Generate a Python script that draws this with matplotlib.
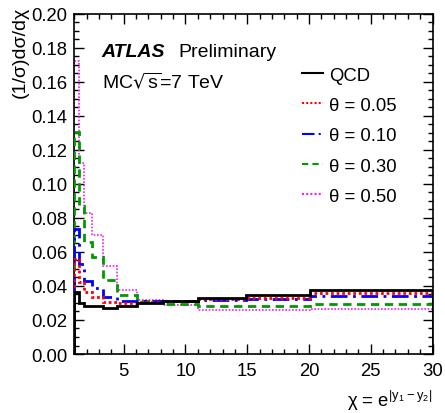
import matplotlib
matplotlib.use('Agg')
import matplotlib.pyplot as plt
from matplotlib.ticker import MultipleLocator, FormatStrFormatter

plt.rcParams['font.family'] = ['Liberation Sans', 'DejaVu Sans']
plt.rcParams['mathtext.default'] = 'regular'

# chi bin edges and normalised distributions
edges = [1, 1.35, 1.82, 2.46, 3.32, 4.48, 6.05, 8.17, 11.02, 14.88, 20.09, 30]
qcd = [0.0365, 0.0302, 0.0284, 0.0280, 0.0270, 0.0282, 0.0300, 0.0314, 0.0332, 0.0346, 0.0378]
theta_005 = [0.0560, 0.0422, 0.0363, 0.0335, 0.0307, 0.0298, 0.0305, 0.0310, 0.0323, 0.0332, 0.0360]
theta_010 = [0.0738, 0.0530, 0.0431, 0.0390, 0.0335, 0.0309, 0.0310, 0.0309, 0.0316, 0.0323, 0.0344]
theta_030 = [0.1305, 0.0873, 0.0657, 0.0569, 0.0437, 0.0349, 0.0310, 0.0293, 0.0284, 0.0284, 0.0295]
theta_050 = [0.1725, 0.1124, 0.0829, 0.0700, 0.0516, 0.0378, 0.0318, 0.0290, 0.0260, 0.0256, 0.0262]

labels = ['QCD', 'θ = 0.05', 'θ = 0.10', 'θ = 0.30', 'θ = 0.50']

fig = plt.figure(figsize=(4.45, 4.14), dpi=100)
ax = fig.add_axes([0.167, 0.1425, 0.805, 0.8215])

fs = 13.3

# draw from back to front
h50 = ax.stairs(theta_050, edges, baseline=0, color='#ee22ee', lw=1.2, ls=(0, (1, 1)), zorder=2)
h30 = ax.stairs(theta_030, edges, baseline=0, color='#009900', lw=2, ls=(0, (3, 2)), zorder=3)
h10 = ax.stairs(theta_010, edges, baseline=0, color='#0000ff', lw=2, ls=(0, (6, 2, 1, 2)), zorder=4)
h05 = ax.stairs(theta_005, edges, baseline=0, color='#ff0000', lw=2, ls=(0, (1, 1)), zorder=5)
hq = ax.stairs(qcd, edges, baseline=0, color='black', lw=2, zorder=6)

ax.set_xlim(1, 30)
ax.set_ylim(0, 0.20)

ax.xaxis.set_major_locator(MultipleLocator(5))
ax.xaxis.set_minor_locator(MultipleLocator(1))
ax.yaxis.set_major_locator(MultipleLocator(0.02))
ax.yaxis.set_minor_locator(MultipleLocator(0.005))
ax.yaxis.set_major_formatter(FormatStrFormatter('%.2f'))

ax.tick_params(which='both', direction='in', top=True, right=True, width=1, labelsize=fs)
ax.tick_params(which='major', length=7.5)
ax.tick_params(which='minor', length=3.6)
ax.tick_params(axis='x', pad=6)
ax.tick_params(axis='y', pad=5)
for s in ax.spines.values():
    s.set_linewidth(1.2)

# axis titles
ax.text(-0.152, 1.024, '(1/σ)dσ/dχ', transform=ax.transAxes, rotation=90,
        ha='center', va='top', fontsize=14)
fig.text(432 / 445, 1 - 413 / 414, 'χ = e$^{|y_{1}-y_{2}|}$', ha='right', va='bottom', fontsize=fs)

# ATLAS label
fig.text(101.5 / 445, 1 - 57 / 414, 'ATLAS', fontsize=14, fontweight='bold', fontstyle='italic')
fig.text(178 / 445, 1 - 57 / 414, 'Preliminary', fontsize=14)
fig.text(101.5 / 445, 1 - 88 / 414, r'MC$\sqrt{s}$=7 TeV', fontsize=14)

leg = ax.legend([hq, h05, h10, h30, h50], labels, loc='upper left',
                bbox_to_anchor=(0.635, 0.845), frameon=False, fontsize=fs,
                borderpad=0, borderaxespad=0, handlelength=1.17,
                handletextpad=0.33, labelspacing=0.72)
for line in leg.get_lines():
    line.set_linewidth(1.5)

fig.savefig('out.png', dpi=100)
